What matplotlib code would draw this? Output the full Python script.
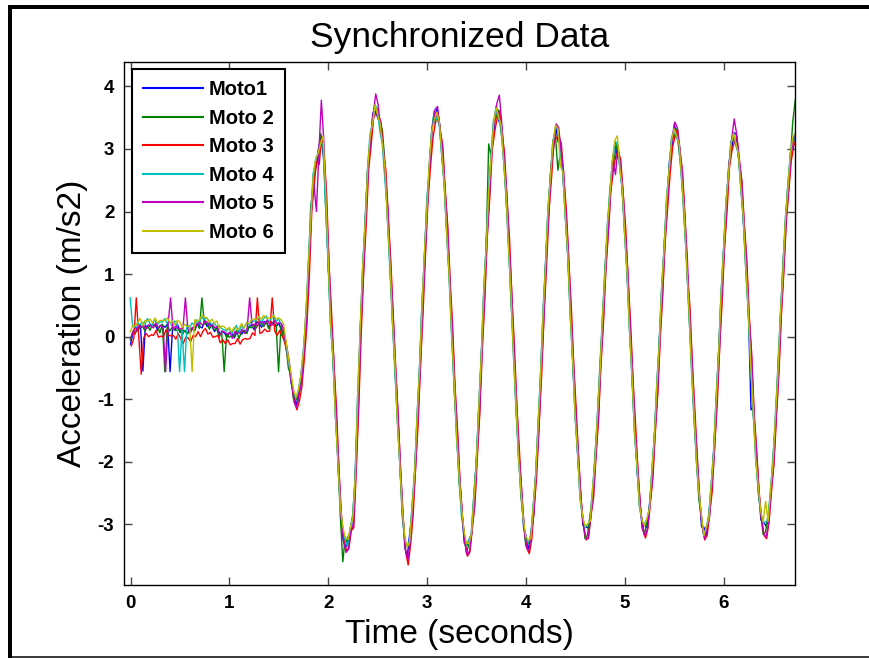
import numpy as np
import matplotlib
matplotlib.use("Agg")
import matplotlib.pyplot as plt
from matplotlib.lines import Line2D

# ---------------- data ----------------
dt = 0.025  # sample spacing (s)

# common acceleration trace (m/s2), one row = 0.25 s
base = [
    0.00, 0.05, 0.10, 0.12, 0.15, 0.12, 0.14, 0.16, 0.13, 0.15,
    0.18, 0.14, 0.12, 0.16, 0.20, 0.17, 0.13, 0.10, 0.12, 0.15,
    0.10, 0.06, 0.08, 0.10, 0.07, 0.10, 0.14, 0.18, 0.16, 0.20,
    0.22, 0.18, 0.17, 0.15, 0.12, 0.10, 0.05, 0.06, 0.02, 0.04,
    0.03, -0.01, 0.02, 0.05, 0.03, 0.07, 0.06, 0.10, 0.14, 0.16,
    0.15, 0.19, 0.20, 0.18, 0.20, 0.22, 0.19, 0.20, 0.21, 0.18,
    0.20, 0.15, 0.05, -0.20, -0.45, -0.70, -0.95, -1.05, -0.95, -0.70,
    -0.30, 0.25, 1.05, 1.95, 2.50, 2.75, 2.85, 3.15, 3.00, 2.20,
    1.20, 0.30, -0.40, -1.20, -2.05, -2.80, -3.15, -3.30, -3.30, -3.15,
    -2.95, -2.20, -1.05, 0.10, 1.00, 1.85, 2.60, 3.15, 3.45, 3.65,
    3.60, 3.35, 3.00, 2.60, 1.95, 1.15, 0.35, -0.45, -1.25, -2.05,
    -2.80, -3.30, -3.45, -3.22, -2.78, -2.15, -1.37, -0.50, 0.42, 1.30,
    2.11, 2.76, 3.25, 3.51, 3.53, 3.35, 2.97, 2.40, 1.72, 0.93,
    0.08, -0.77, -1.56, -2.25, -2.82, -3.20, -3.39, -3.36, -3.10, -2.62,
    -1.96, -1.17, -0.26, 0.65, 1.51, 2.28, 2.94, 3.37, 3.58, 3.56,
    3.32, 2.88, 2.25, 1.51, 0.65, -0.22, -1.08, -1.86, -2.49, -2.99,
    -3.28, -3.35, -3.18, -2.78, -2.18, -1.45, -0.57, 0.33, 1.21, 1.98,
    2.62, 3.06, 3.28, 3.26, 3.02, 2.58, 1.97, 1.25, 0.41, -0.43,
    -1.22, -1.93, -2.54, -2.94, -3.13, -3.11, -2.90, -2.51, -1.95, -1.29,
    -0.51, 0.26, 1.03, 1.72, 2.29, 2.73, 2.99, 3.01, 2.77, 2.32,
    1.70, 0.96, 0.14, -0.69, -1.47, -2.13, -2.66, -2.99, -3.10, -3.00,
    -2.70, -2.22, -1.58, -0.85, -0.06, 0.75, 1.49, 2.15, 2.72, 3.10,
    3.28, 3.26, 3.02, 2.58, 1.97, 1.25, 0.41, -0.43, -1.22, -1.93,
    -2.54, -2.94, -3.13, -3.11, -2.86, -2.43, -1.80, -1.05, -0.22, 0.61,
    1.40, 2.08, 2.67, 3.04, 3.20, 3.14, 2.88, 2.44, 1.85, 1.15,
    0.37, -0.42, -1.18, -1.88, -2.44, -2.85, -3.06, -3.08, -2.90, -2.51,
    -1.97, -1.31, -0.52, 0.30, 1.09, 1.81, 2.40, 2.87, 3.13, 3.20,
]

# per-sensor deviations from the common trace
dev_moto1 = [
    -0.12, 0.02, 0.06, -0.03, 0.05, -0.67, 0.04, -0.02, 0.05, 0.03,
    0.01, -0.04, 0.06, 0.02, -0.05, 0.03, -0.69, 0.04, -0.02, 0.05,
    -0.03, 0.04, 0.01, -0.05, 0.06, 0.02, -0.04, 0.03, 0.00, -0.06,
    0.04, -0.02, 0.05, 0.01, -0.04, 0.06, -0.03, 0.02, 0.04, -0.05,
    0.03, 0.06, -0.04, 0.02, 0.05, -0.03, 0.04, -0.05, 0.02, 0.03,
    -0.04, 0.05, 0.01, -0.03, 0.04, 0.02, -0.05, 0.03, 0.01, -0.02,
    0.02, -0.05, 0.04, 0.06, 0.03, -0.05, 0.04, -0.06, 0.05, 0.08,
    0.05, -0.10, 0.12, -0.08, 0.10, -0.05, 0.15, 0.05, -0.10, 0.10,
    -0.10, 0.08, -0.05, 0.10, -0.08, 0.05, -0.10, -0.08, 0.10, 0.05,
    -0.12, 0.10, -0.05, 0.08, -0.06, 0.04, 0.10, -0.08, 0.12, -0.05,
    -0.10, 0.05, 0.12, -0.06, 0.08, -0.04, 0.06, -0.05, 0.07, -0.03,
    0.05, -0.08, -0.05, 0.10, -0.06, 0.04, -0.05, 0.06, -0.04, 0.05,
    -0.06, 0.05, 0.10, -0.08, 0.12, 0.06, -0.05, 0.04, -0.06, 0.05,
    -0.05, 0.06, -0.04, 0.05, 0.08, -0.10, 0.05, 0.12, -0.06, 0.04,
    0.05, -0.06, 0.04, -0.05, 0.06, -0.04, 0.05, -0.08, 0.10, -0.12,
    0.08, -0.05, 0.04, -0.06, 0.05, -0.04, 0.06, -0.05, 0.08, -0.06,
    0.10, -0.08, 0.06, -0.05, 0.04, -0.06, 0.05, -0.04, 0.06, -0.05,
    0.06, -0.10, 0.08, -0.15, 0.10, -0.05, 0.06, -0.04, 0.05, -0.06,
    0.04, -0.05, 0.06, -0.08, 0.10, 0.05, -0.06, 0.04, -0.05, 0.06,
    -0.04, 0.05, -0.06, 0.04, -0.05, 0.08, 0.12, -0.15, 0.06, -0.05,
    0.05, -0.04, 0.06, -0.05, 0.04, -0.06, 0.05, -0.08, 0.10, -0.06,
    0.05, -0.06, 0.04, -0.05, 0.06, -0.04, 0.05, -0.06, 0.08, -0.10,
    0.12, -0.08, 0.06, -0.05, 0.04, -0.06, 0.05, -0.04, 0.06, -0.05,
    0.06, -0.10, 0.08, -0.06, 0.05, -0.04, 0.06, -0.05, 0.04, -0.06,
    0.05, -0.06, 0.08, -0.10, 0.06, 0.10, -0.05, 0.04, -0.06, 0.05,
    -0.04, -0.75, 0.06, -0.05, 0.04, -0.08, 0.10, 0.06, -0.05, 0.04,
    -0.06, 0.05, -0.04, 0.06, -0.05, 0.04, -0.06, 0.08, -0.05, 0.04,
]
dev_moto2 = [
    -0.05, 0.03, -0.06, 0.02, -0.01, 0.04, -0.05, 0.01, -0.03, 0.05,
    -0.02, 0.03, -0.06, 0.04, -0.76, 0.02, -0.04, 0.05, -0.01, -0.05,
    0.03, -0.04, 0.02, -0.06, 0.01, 0.04, -0.05, 0.02, -0.03, 0.42,
    -0.02, 0.03, -0.05, 0.04, -0.01, 0.02, -0.06, 0.03, -0.58, 0.01,
    -0.04, 0.02, -0.03, 0.05, -0.06, 0.01, 0.03, -0.05, 0.02, -0.02,
    0.04, -0.05, 0.01, 0.03, -0.04, 0.02, -0.06, 0.04, -0.02, 0.01,
    -0.76, 0.03, -0.08, 0.05, -0.06, 0.08, -0.04, 0.06, -0.08, 0.05,
    -0.06, 0.10, -0.08, 0.12, -0.10, 0.06, -0.08, 0.10, 0.12, -0.08,
    0.08, -0.06, 0.10, -0.05, 0.12, -0.08, -0.45, 0.10, -0.06, 0.08,
    0.10, -0.08, 0.06, -0.10, 0.08, -0.05, 0.06, -0.04, -0.10, 0.05,
    -0.05, 0.10, 0.30, 0.20, -0.05, 0.06, -0.08, 0.05, -0.06, 0.08,
    -0.05, 0.08, 0.10, -0.06, 0.05, -0.08, 0.06, -0.05, 0.08, -0.06,
    0.05, -0.08, 0.06, 0.10, -0.05, 0.08, -0.06, 0.05, -0.04, 0.06,
    0.06, -0.05, 0.08, -0.06, 0.04, 0.06, -0.08, 0.05, -0.06, 0.08,
    -0.06, 0.05, -0.08, 0.06, -0.05, 0.80, -0.06, 0.10, -0.08, 0.06,
    -0.05, 0.06, -0.04, 0.05, -0.06, 0.08, -0.05, 0.06, -0.04, 0.05,
    -0.06, 0.05, -0.08, 0.06, -0.05, 0.04, -0.06, 0.05, -0.08, 0.06,
    -0.05, 0.08, -0.06, -0.60, -0.08, 0.06, -0.05, 0.04, -0.06, 0.05,
    -0.06, 0.08, -0.05, 0.06, -0.10, -0.06, 0.05, -0.04, 0.06, -0.05,
    0.06, -0.05, 0.04, -0.06, 0.05, -0.04, -0.10, 0.10, -0.05, 0.06,
    -0.05, 0.06, -0.04, 0.05, -0.06, 0.08, -0.05, 0.06, -0.08, 0.05,
    -0.06, 0.05, -0.04, 0.06, -0.05, 0.04, -0.06, 0.05, -0.06, 0.08,
    -0.10, 0.06, -0.05, 0.04, -0.06, 0.05, -0.04, 0.06, -0.05, 0.04,
    -0.06, 0.08, -0.05, 0.06, -0.04, 0.05, -0.06, 0.04, -0.05, 0.06,
    -0.04, 0.05, -0.06, 0.08, -0.05, -0.08, 0.06, -0.05, 0.04, -0.06,
    0.05, -0.04, -0.06, 0.05, -0.04, 0.06, -0.10, -0.05, 0.06, -0.05,
    0.04, -0.06, 0.05, -0.04, 0.06, -0.05, 0.04, -0.06, 0.30, 0.58,
]
dev_moto3 = [
    -0.15, -0.08, 0.52, -0.10, -0.75, -0.14, -0.09, -0.16, -0.10, -0.13,
    -0.08, -0.15, -0.11, -0.17, -0.09, -0.14, -0.12, -0.08, -0.16, -0.10,
    -0.13, -0.17, -0.09, -0.12, -0.15, -0.08, -0.14, -0.10, -0.16, -0.11,
    -0.09, -0.14, -0.10, -0.16, -0.12, -0.08, -0.15, -0.11, -0.13, -0.09,
    -0.16, -0.10, -0.13, -0.08, -0.15, -0.12, -0.09, -0.14, -0.17, -0.10,
    -0.13, 0.43, -0.15, -0.11, -0.08, -0.14, -0.10, 0.42, -0.12, -0.16,
    -0.10, -0.14, -0.12, -0.08, -0.06, -0.08, -0.10, -0.12, -0.08, -0.10,
    -0.05, -0.08, -0.10, 0.05, -0.06, 0.08, -0.10, 0.05, -0.08, 0.10,
    -0.06, 0.10, -0.08, 0.06, -0.10, -0.05, -0.10, -0.12, -0.08, 0.05,
    -0.10, 0.06, -0.08, -0.06, 0.05, -0.08, 0.06, -0.10, 0.05, -0.08,
    -0.06, 0.08, -0.05, 0.06, -0.08, 0.05, -0.06, -0.08, -0.10, -0.12,
    -0.10, -0.15, -0.20, -0.10, -0.08, 0.06, -0.05, 0.05, -0.06, 0.04,
    0.05, -0.06, -0.08, -0.10, 0.06, -0.05, 0.08, -0.06, 0.05, -0.04,
    0.06, -0.05, 0.04, -0.08, -0.06, -0.10, -0.12, -0.08, 0.05, -0.06,
    0.05, -0.04, 0.06, -0.05, 0.08, -0.06, 0.04, -0.10, -0.08, 0.05,
    -0.06, 0.05, -0.08, 0.06, -0.04, 0.05, -0.06, 0.04, -0.05, -0.08,
    -0.10, -0.12, -0.06, 0.05, -0.04, 0.06, -0.05, 0.04, -0.06, 0.05,
    -0.08, 0.06, -0.10, -0.05, 0.04, -0.06, 0.05, -0.04, 0.06, -0.05,
    0.04, -0.06, -0.08, -0.10, -0.12, -0.08, 0.05, -0.06, 0.04, -0.05,
    0.06, -0.04, 0.05, -0.06, 0.04, -0.08, -0.10, -0.05, 0.06, -0.05,
    0.04, -0.06, 0.05, -0.04, 0.06, -0.05, -0.08, -0.10, -0.12, -0.06,
    0.05, -0.04, 0.06, -0.05, 0.04, -0.06, 0.05, -0.08, -0.10, -0.06,
    -0.08, 0.05, -0.06, 0.04, -0.05, -0.30, 0.06, -0.05, 0.04, -0.06,
    -0.08, -0.10, -0.12, -0.06, 0.05, -0.04, 0.06, -0.05, 0.04, -0.06,
    0.05, -0.08, 0.04, -0.06, -0.08, 0.05, -0.06, 0.04, -0.05, 0.06,
    -0.04, 0.05, -0.06, 0.04, -0.05, -0.08, -0.12, -0.15, -0.06, 0.05,
    -0.06, 0.04, -0.05, 0.06, -0.04, 0.05, -0.06, -0.05, -0.08, -0.04,
]
dev_moto4 = [
    0.62, 0.12, 0.05, 0.10, 0.04, 0.11, 0.06, 0.13, 0.08, 0.03,
    0.10, 0.05, 0.12, 0.07, 0.09, 0.04, 0.11, 0.06, 0.13, 0.08,
    -0.66, 0.05, -0.64, 0.10, 0.06, 0.12, 0.04, 0.09, 0.07, 0.11,
    0.05, 0.12, 0.08, 0.04, 0.10, 0.06, 0.13, 0.07, 0.09, 0.05,
    0.11, 0.06, 0.09, 0.13, 0.04, 0.10, 0.07, 0.12, 0.05, 0.08,
    0.10, 0.06, 0.12, 0.04, 0.09, 0.11, 0.05, 0.08, 0.13, 0.06,
    0.08, 0.06, 0.10, 0.08, 0.05, 0.06, 0.10, 0.06, 0.08, 0.05,
    0.06, -0.05, 0.08, -0.06, 0.10, 0.05, 0.10, -0.05, 0.08, -0.06,
    0.05, -0.08, 0.06, -0.05, 0.10, 0.08, 0.06, 0.05, -0.06, 0.08,
    0.06, -0.05, 0.08, -0.06, 0.05, -0.04, 0.06, 0.08, -0.05, 0.06,
    0.05, -0.06, 0.08, -0.05, 0.06, -0.04, 0.05, -0.06, 0.04, 0.06,
    0.08, 0.06, 0.10, -0.05, 0.06, -0.04, 0.05, -0.06, 0.08, -0.05,
    0.06, -0.05, 0.04, 0.08, -0.06, 0.05, -0.04, 0.06, -0.05, 0.04,
    -0.06, 0.05, -0.04, 0.06, -0.05, 0.08, 0.06, 0.10, -0.05, 0.06,
    -0.04, 0.05, -0.06, 0.04, -0.05, 0.06, -0.04, 0.05, 0.10, -0.06,
    0.05, -0.04, 0.06, -0.05, 0.04, -0.06, 0.05, -0.04, 0.06, 0.05,
    0.08, 0.06, -0.05, 0.04, -0.06, 0.05, -0.04, 0.06, -0.05, 0.04,
    -0.06, 0.05, 0.04, 0.08, -0.06, 0.05, -0.04, 0.06, -0.05, 0.04,
    -0.06, 0.05, -0.04, 0.06, 0.08, 0.10, -0.05, 0.06, -0.04, 0.05,
    -0.06, 0.04, -0.05, 0.06, -0.04, 0.05, 0.06, 0.10, -0.05, 0.06,
    -0.04, 0.05, -0.06, 0.04, -0.05, 0.06, -0.04, 0.05, 0.10, 0.08,
    -0.06, 0.05, -0.04, 0.06, -0.05, 0.04, -0.06, 0.05, -0.04, 0.06,
    0.05, -0.06, 0.04, -0.05, 0.06, -0.04, 0.05, -0.06, 0.04, -0.05,
    0.06, 0.10, -0.05, 0.06, -0.04, 0.05, -0.06, 0.04, -0.05, 0.06,
    -0.04, 0.05, -0.06, 0.04, 0.06, -0.05, 0.04, -0.06, 0.05, -0.04,
    0.06, -0.05, 0.04, -0.06, 0.05, 0.06, 0.08, 0.12, -0.05, 0.06,
    -0.04, 0.05, -0.06, 0.04, -0.05, 0.06, -0.04, 0.05, -0.06, 0.05,
]
dev_moto5 = [
    -0.03, 0.05, -0.01, 0.04, 0.00, 0.06, -0.02, 0.03, 0.05, -0.01,
    0.04, 0.00, 0.06, -0.02, -0.76, 0.03, 0.49, 0.01, 0.05, -0.02,
    0.03, 0.06, 0.54, 0.02, -0.01, 0.05, 0.00, 0.04, 0.06, -0.02,
    0.03, 0.05, -0.01, 0.04, 0.02, 0.06, -0.02, 0.03, 0.05, 0.00,
    0.04, -0.02, 0.06, 0.01, 0.03, 0.05, -0.01, 0.04, 0.48, 0.02,
    0.05, -0.01, 0.03, 0.06, 0.00, 0.04, 0.02, -0.02, 0.05, 0.03,
    0.02, 0.05, -0.03, 0.04, 0.06, -0.05, -0.10, -0.08, 0.05, -0.04,
    0.06, -0.05, 0.08, 0.10, -0.06, -0.75, 0.10, 0.63, 0.12, -0.05,
    0.06, -0.05, 0.08, -0.06, 0.05, -0.08, -0.12, -0.15, -0.10, 0.06,
    -0.05, 0.06, -0.08, 0.05, -0.06, 0.08, 0.10, 0.06, 0.12, 0.23,
    0.10, -0.05, 0.06, -0.08, 0.05, -0.06, 0.04, -0.05, 0.06, -0.04,
    -0.06, -0.10, -0.12, -0.05, 0.06, -0.04, 0.05, -0.06, 0.04, -0.05,
    0.06, 0.08, 0.10, 0.12, 0.15, -0.05, 0.06, -0.04, 0.05, -0.06,
    0.04, -0.05, 0.06, -0.04, -0.06, -0.08, -0.10, -0.06, 0.05, -0.04,
    0.06, -0.05, 0.04, -0.06, 0.05, -0.04, 0.06, 0.10, 0.15, 0.30,
    0.08, -0.05, 0.06, -0.04, 0.05, -0.06, 0.04, -0.05, 0.06, -0.08,
    -0.10, -0.06, 0.05, -0.04, 0.06, -0.05, 0.04, -0.06, 0.05, -0.04,
    0.06, 0.10, 0.12, 0.08, -0.05, 0.06, -0.04, 0.05, -0.06, 0.04,
    -0.05, 0.06, -0.04, -0.08, -0.10, -0.12, 0.05, -0.06, 0.04, -0.05,
    0.06, -0.04, 0.05, -0.06, 0.04, 0.08, -0.40, 0.05, -0.06, 0.04,
    -0.05, 0.06, -0.04, 0.05, -0.06, 0.04, -0.05, -0.10, -0.08, -0.06,
    0.05, -0.04, 0.06, -0.05, 0.04, -0.06, 0.05, -0.04, 0.06, 0.10,
    0.15, 0.08, -0.05, 0.06, -0.04, 0.05, -0.06, 0.04, -0.05, 0.06,
    -0.06, -0.08, -0.10, 0.05, -0.04, 0.06, -0.05, 0.04, -0.06, 0.05,
    -0.04, 0.06, 0.10, 0.12, 0.28, 0.10, -0.05, 0.06, -0.04, 0.05,
    -0.06, 0.20, -0.05, 0.06, -0.04, -0.06, -0.10, -0.12, -0.05, 0.06,
    -0.05, 0.04, -0.06, 0.05, -0.04, 0.06, -0.05, 0.04, 0.06, 0.05,
]
dev_moto6 = [
    0.08, 0.13, 0.07, 0.11, 0.14, 0.06, 0.12, 0.09, 0.15, 0.07,
    0.12, 0.08, 0.14, 0.10, 0.06, 0.13, 0.09, 0.15, 0.07, 0.11,
    0.14, 0.08, 0.12, 0.06, 0.10, -0.66, 0.13, 0.07, 0.11, 0.14,
    0.09, 0.12, 0.06, 0.13, 0.10, 0.15, 0.08, 0.11, 0.14, 0.07,
    0.12, 0.09, 0.13, 0.06, 0.10, 0.14, 0.08, 0.12, 0.07, 0.11,
    0.13, 0.08, 0.12, 0.10, 0.14, 0.07, 0.11, 0.09, 0.13, 0.10,
    0.10, 0.12, 0.15, 0.12, 0.10, 0.12, 0.10, 0.08, 0.10, 0.08,
    0.05, 0.10, 0.05, -0.08, 0.06, 0.10, 0.08, -0.05, 0.20, 0.15,
    0.10, -0.05, 0.06, -0.08, 0.05, 0.06, 0.10, 0.08, 0.06, 0.10,
    0.05, -0.06, 0.08, 0.06, 0.10, -0.05, 0.06, 0.05, -0.04, 0.06,
    -0.05, 0.06, 0.08, 0.10, -0.05, 0.06, -0.04, 0.05, -0.06, 0.04,
    0.06, 0.10, 0.08, -0.06, 0.05, -0.04, 0.06, -0.05, 0.04, 0.06,
    -0.05, 0.06, 0.04, -0.05, 0.06, 0.08, -0.04, 0.05, -0.06, 0.04,
    -0.05, 0.06, -0.04, 0.05, 0.06, 0.10, 0.08, 0.06, -0.05, 0.04,
    -0.06, 0.05, -0.04, 0.06, -0.05, 0.04, -0.06, 0.05, 0.08, -0.05,
    0.06, -0.04, 0.05, -0.06, 0.04, -0.05, 0.06, -0.04, 0.05, 0.06,
    0.08, 0.10, -0.05, 0.06, -0.04, 0.05, -0.06, 0.04, -0.05, 0.06,
    -0.04, 0.05, 0.10, 0.06, -0.30, 0.05, -0.04, 0.06, -0.05, 0.04,
    -0.06, 0.05, -0.04, 0.06, 0.10, 0.12, -0.05, 0.06, -0.04, 0.05,
    -0.06, 0.04, -0.05, 0.06, -0.04, 0.10, 0.15, 0.20, -0.05, 0.06,
    -0.04, 0.05, -0.06, 0.04, -0.05, 0.06, -0.04, 0.05, 0.08, 0.10,
    -0.05, 0.06, -0.04, 0.05, -0.06, 0.04, -0.05, 0.06, -0.04, 0.05,
    0.04, -0.05, 0.06, -0.04, 0.05, -0.06, 0.04, -0.05, 0.06, -0.04,
    0.05, 0.10, -0.05, 0.06, -0.04, 0.05, -0.06, 0.04, -0.05, 0.06,
    -0.04, 0.05, -0.06, 0.04, 0.05, -0.05, 0.04, -0.06, 0.05, -0.04,
    0.06, -0.05, 0.04, -0.06, 0.05, 0.06, 0.10, 0.45, -0.05, 0.06,
    -0.04, 0.05, -0.06, 0.04, -0.05, 0.06, -0.04, 0.05, 0.06, 0.05,
]

labels = ["Moto1", "Moto 2", "Moto 3", "Moto 4", "Moto 5", "Moto 6"]
deviations = [dev_moto1, dev_moto2, dev_moto3, dev_moto4, dev_moto5, dev_moto6]
time_lags = [0.000, -0.003, 0.008, -0.004, 0.005, -0.002]   # residual sync offsets (s)

x_ticks = [0, 1, 2, 3, 4, 5, 6]
y_ticks = [-3, -2, -1, 0, 1, 2, 3, 4]

title_text = "Synchronized Data"
xlabel_text = "Time (seconds)"
ylabel_text = "Acceleration (m/s2)"

# ---------------- styling ----------------
colors = [(0, 0, 1), (0, 0.5, 0), (1, 0, 0), (0, 0.75, 0.75), (0.75, 0, 0.75), (0.75, 0.75, 0)]
FONT = ["Liberation Sans", "DejaVu Sans"]
plt.rcParams["font.family"] = FONT

W, H = 870, 658
fig = plt.figure(figsize=(W / 100, H / 100), dpi=100)
fig.patch.set_facecolor("white")

ax_l, ax_r, ax_t, ax_b = 124, 795, 62, 585
ax = fig.add_axes([ax_l / W, 1 - ax_b / H, (ax_r - ax_l) / W, (ax_b - ax_t) / H])

base_arr = np.array(base)
for d in deviations:
    assert len(d) == len(base_arr), len(d)
t = np.arange(len(base_arr)) * dt

for dev, lag, col, lab in zip(deviations, time_lags, colors, labels):
    ax.plot(t + lag, base_arr + np.array(dev), color=col, lw=1.0, label=lab)

ax.set_xlim(-0.066, 6.72)
ax.set_ylim(-3.97, 4.39)
ax.set_xticks(x_ticks)
ax.set_yticks(y_ticks)
ax.set_xticklabels([str(v) for v in x_ticks])
ax.set_yticklabels([str(v) for v in y_ticks])
ax.tick_params(direction="in", length=5.5, width=1, color="#444444",
               top=True, right=True, labelsize=13.5, pad=7)
for lbl in ax.get_xticklabels() + ax.get_yticklabels():
    lbl.set_fontweight("bold")
for sp in ax.spines.values():
    sp.set_linewidth(1.0)
    sp.set_color("black")

ax.set_title(title_text, fontsize=25.5, pad=11)
ax.set_xlabel(xlabel_text, fontsize=24, labelpad=5)
ax.set_ylabel(ylabel_text, fontsize=24, labelpad=7)

leg = ax.legend(loc="upper left", bbox_to_anchor=(0.0124, 0.986), borderaxespad=0,
                fancybox=False, framealpha=1, edgecolor="black",
                prop={"family": FONT, "weight": "bold", "size": 14.5},
                handlelength=2.95, handletextpad=0.3, labelspacing=0.47,
                borderpad=0.55)
leg.get_frame().set_linewidth(1.5)
for h in leg.get_lines():
    h.set_linewidth(1.5)

# outer figure frame
def px_line(x0, y0, x1, y1, lw_px):
    fig.add_artist(Line2D([x0 / W, x1 / W], [1 - y0 / H, 1 - y1 / H],
                          transform=fig.transFigure, color="black",
                          lw=lw_px * 0.72, solid_capstyle="butt"))

px_line(10.3, 5, 10.3, 658, 4)
px_line(8.3, 7, 870, 7, 4)
px_line(8.3, 656.5, 870, 656.5, 1.5)

fig.savefig("out.png", dpi=100)
